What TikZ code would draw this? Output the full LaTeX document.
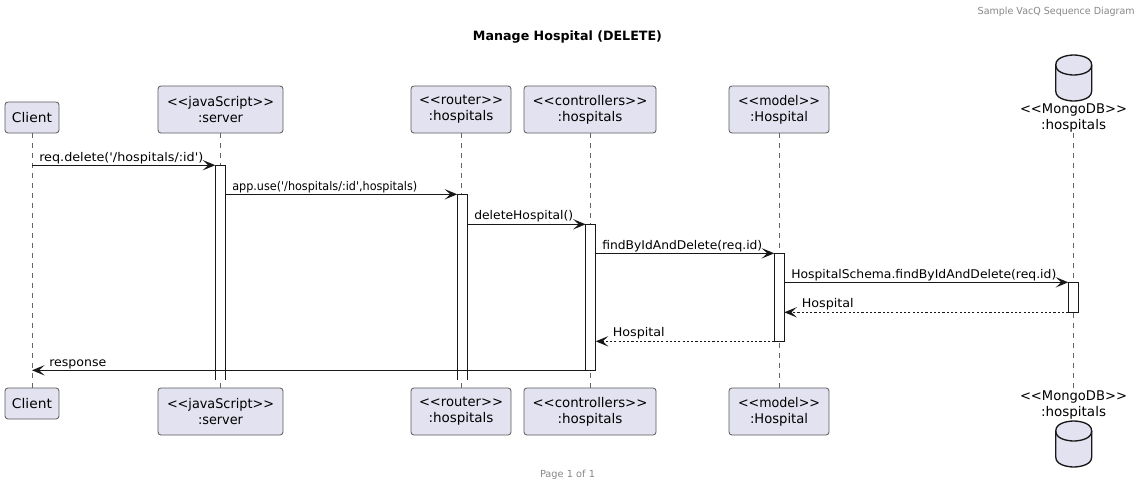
\documentclass[tikz,border=0pt]{standalone}
\usepackage{fontspec}
\usepackage{graphicx}
\setmainfont{DejaVu Sans}
\usetikzlibrary{arrows.meta}
\definecolor{boxfill}{HTML}{E2E2F0}
\definecolor{boxline}{HTML}{5A5A5A}
\definecolor{lifegray}{HTML}{666666}
\definecolor{ink}{HTML}{181818}
\definecolor{faint}{HTML}{888888}
\newcommand{\boxfont}{\fontsize{10pt}{12pt}\selectfont}
\newcommand{\msgfont}{\fontsize{9pt}{11pt}\selectfont}
\newlength{\fitlen}
\newcommand{\fitw}[2]{\setlength{\fitlen}{#1pt}\setlength{\fitlen}{0.75\fitlen}\resizebox{\fitlen}{\height}{#2}}
\newcommand{\sq}{\textquotesingle{}}
\tikzset{
  x=0.75pt,y=-0.75pt,
  part/.style={draw=boxline,fill=boxfill,line width=0.6pt,rounded corners=2.2pt,align=center,inner sep=0pt,outer sep=0pt,anchor=north west,font=\boxfont,text=black},
  lifeline/.style={draw=lifegray,line width=0.45pt,dash pattern=on 3.75pt off 3.75pt},
  activation/.style={fill=white,inner sep=0pt,outer sep=0pt,anchor=north west},
  actedge/.style={draw=ink,line width=0.75pt,line cap=butt},
  msg/.style={draw=ink,line width=0.75pt,-{Stealth[length=9.5pt,width=7.8pt,inset=4.2pt,color=ink,line width=0pt]}},
  ret/.style={msg,dash pattern=on 1.6pt off 1.6pt},
  mlabel/.style={font=\msgfont,anchor=base west,inner sep=0pt,text=black},
  dblabel/.style={font=\boxfont,align=center,inner sep=0pt,anchor=center,text=black},
  dbshape/.style={draw=ink,fill=boxfill,line width=1pt},
  dbrim/.style={draw=ink,line width=1pt},
}
\newcommand{\partbox}[6]{\node[part,minimum width=#4*0.75pt,minimum height=#5*0.75pt] (#1) at (#2,#3) {#6};}
\newcommand{\dbcyl}[2]{%
  \path[dbshape] (#1-18,#2+10) .. controls (#1-18,#2) and (#1,#2) .. (#1,#2)
    .. controls (#1,#2) and (#1+18,#2) .. (#1+18,#2+10)
    -- (#1+18,#2+36)
    .. controls (#1+18,#2+46) and (#1,#2+46) .. (#1,#2+46)
    .. controls (#1,#2+46) and (#1-18,#2+46) .. (#1-18,#2+36) -- cycle;
  \path[dbrim] (#1-18,#2+10) .. controls (#1-18,#2+20) and (#1,#2+20) .. (#1,#2+20)
    .. controls (#1,#2+20) and (#1+18,#2+20) .. (#1+18,#2+10);
}
\newcommand{\actnode}[5]{\node[activation,minimum width=10*0.75pt,minimum height=#5*0.75pt] (#1) at (#2,#3) {};#4}
\newcommand{\closedact}[1]{\draw[actedge] (#1.north west) rectangle (#1.south east);}
\newcommand{\openact}[1]{\draw[actedge] (#1.south west) -- (#1.north west) -- (#1.north east) -- (#1.south east);}
\begin{document}
\begin{tikzpicture}
\useasboundingbox (0,0) rectangle (1142,486);
\fill[white] (0,0) rectangle (1142,486);
% header, title, footer
\node[font=\fontsize{7.3pt}{9pt}\selectfont,text=faint,anchor=base east,inner sep=0pt] (hdr) at (1135,14) {\fitw{157}{Sample VacQ Sequence Diagram}};
\node[font=\bfseries\fontsize{9.6pt}{12pt}\selectfont,text=black,anchor=base,inner sep=0pt] (ttl) at (567.5,40.5) {\fitw{189}{Manage Hospital (DELETE)}};
\node[font=\fontsize{7.3pt}{9pt}\selectfont,text=faint,anchor=base,inner sep=0pt] (ftr) at (567.5,477) {\fitw{55}{Page 1 of 1}};
% participants
\partbox{cT}{5}{102}{54}{31}{\fitw{40}{Client}}
\partbox{sT}{158}{86}{125}{47}{\fitw{107}{<{}<javaScript>{}>}\\\fitw{45}{:server}}
\partbox{rT}{411}{86}{100}{47}{\fitw{84}{<{}<router>{}>}\\\fitw{65}{:hospitals}}
\partbox{kT}{524}{86}{132}{47}{\fitw{115}{<{}<controllers>{}>}\\\fitw{65}{:hospitals}}
\partbox{mT}{729}{86}{100}{47}{\fitw{82}{<{}<model>{}>}\\\fitw{58}{:Hospital}}
\partbox{cB}{5}{388}{54}{31}{\fitw{40}{Client}}
\partbox{sB}{158}{388}{125}{47}{\fitw{107}{<{}<javaScript>{}>}\\\fitw{45}{:server}}
\partbox{rB}{411}{388}{100}{47}{\fitw{84}{<{}<router>{}>}\\\fitw{65}{:hospitals}}
\partbox{kB}{524}{388}{132}{47}{\fitw{115}{<{}<controllers>{}>}\\\fitw{65}{:hospitals}}
\partbox{mB}{729}{388}{100}{47}{\fitw{82}{<{}<model>{}>}\\\fitw{58}{:Hospital}}
\dbcyl{1073.7}{55}
\dbcyl{1073.7}{421}
\node[dblabel] (dT) at (1073.5,118.5) {\fitw{107}{<{}<MongoDB>{}>}\\\fitw{65}{:hospitals}};
\node[dblabel] (dB) at (1073.5,405) {\fitw{107}{<{}<MongoDB>{}>}\\\fitw{65}{:hospitals}};
% lifelines
\draw[lifeline] (cT) -- (cB);
\draw[lifeline] (sT) -- (sB);
\draw[lifeline] (rT) -- (rB);
\draw[lifeline] (kT) -- (kB);
\draw[lifeline] (mT) -- (mB);
\draw[lifeline] (dT) -- (dB);
% activations
\actnode{sA}{215.3}{165.2}{\openact{sA}}{214.8}
\actnode{rA}{457.3}{194.3}{\openact{rA}}{185.7}
\actnode{kA}{585.7}{224.3}{\closedact{kA}}{146}
\actnode{mA}{774.3}{253.3}{\closedact{mA}}{88}
\actnode{dA}{1068.3}{282.3}{\closedact{dA}}{30}
% messages
\draw[msg] (cT |- sA.north west) -- (sA.north west);
\draw[msg] (sA.north east |- rA.north west) -- (rA.north west);
\draw[msg] (rA.north east |- kA.north west) -- (kA.north west);
\draw[msg] (kA.north east |- mA.north west) -- (mA.north west);
\draw[msg] (mA.north east |- dA.north west) -- (dA.north west);
\draw[ret] (dA.south west) -- (mA.north east |- dA.south west);
\draw[ret] (mA.south west) -- (kA.north east |- mA.south west);
\draw[msg] (kA.south west) -- (cT |- kA.south west);
% labels
\node[mlabel] (l1) at (39,161) {\fitw{164}{req.delete(\sq/hospitals/:id\sq)}};
\node[mlabel] (l2) at (232,190) {\fitw{185}{app.use(\sq/hospitals/:id\sq,hospitals)}};
\node[mlabel] (l3) at (474,219) {\fitw{99}{deleteHospital()}};
\node[mlabel] (l4) at (602,249) {\fitw{160}{findByIdAndDelete(req.id)}};
\node[mlabel] (l5) at (791,278) {\fitw{265}{HospitalSchema.findByIdAndDelete(req.id)}};
\node[mlabel] (l6) at (801.5,307) {\fitw{52}{Hospital}};
\node[mlabel] (l7) at (612.5,336) {\fitw{52}{Hospital}};
\node[mlabel] (l8) at (49,366) {\fitw{57}{response}};
\end{tikzpicture}
\end{document}
